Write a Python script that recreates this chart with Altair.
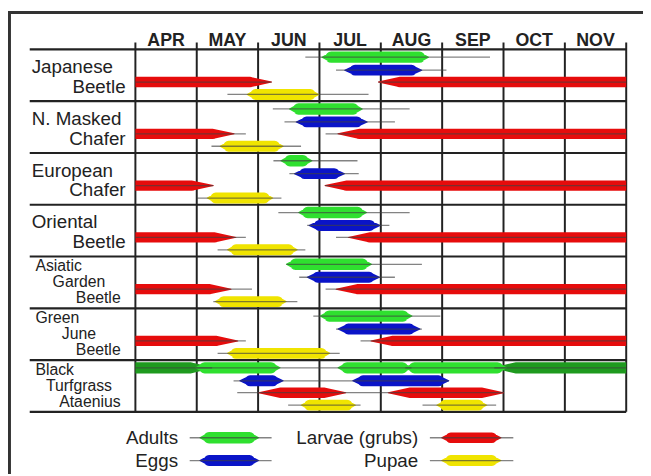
import altair as alt
import pandas as pd

# ---------------- data (months counted from 1 April; 8 = end of November) -------------
months = ["APR", "MAY", "JUN", "JUL", "AUG", "SEP", "OCT", "NOV"]
species = [
    ["Japanese", "Beetle"],
    ["N. Masked", "Chafer"],
    ["European", "Chafer"],
    ["Oriental", "Beetle"],
    ["Asiatic", "Garden", "Beetle"],
    ["Green", "June", "Beetle"],
    ["Black", "Turfgrass", "Ataenius"],
]

# (species index, whisker start, bar start, bar end, whisker end)
adults = [
    (0, 2.77, 3.04, 4.78, 5.78),
    (1, 2.24, 2.51, 3.70, 4.47),
    (2, 2.25, 2.37, 2.88, 3.62),
    (3, 2.33, 2.66, 3.77, 4.47),
    (4, 2.46, 2.46, 3.85, 4.67),
    (5, 2.90, 3.01, 4.51, 4.97),
    (6, 0.98, 0.98, 2.36, 3.30),
    (6, 3.30, 3.30, 4.50, 4.50),
    (6, 4.40, 4.40, 6.05, 6.05),
]
adults_overwintering = [
    (6, 0.00, 0.00, 1.25, 1.25),
    (6, 5.85, 5.85, 8.00, 8.00),
]
eggs = [
    (0, 3.27, 3.41, 4.67, 5.07),
    (1, 2.43, 2.62, 3.78, 4.23),
    (2, 2.51, 2.59, 3.41, 3.64),
    (3, 2.80, 2.83, 3.99, 4.14),
    (4, 2.67, 2.80, 3.98, 4.23),
    (5, 3.27, 3.30, 4.64, 4.67),
    (6, 1.60, 1.70, 2.41, 3.54),
    (6, 3.54, 3.54, 5.11, 5.11),
]
larvae = [
    (0, 0.00, 0.00, 2.22, 2.22), (0, 3.96, 3.96, 8.00, 8.00),
    (1, 0.00, 0.00, 1.61, 1.80), (1, 3.10, 3.30, 8.00, 8.00),
    (2, 0.00, 0.00, 1.27, 1.27), (2, 3.09, 3.09, 8.00, 8.00),
    (3, 0.00, 0.00, 1.64, 1.80), (3, 3.27, 3.47, 8.00, 8.00),
    (4, 0.00, 0.00, 1.56, 1.90), (4, 3.10, 3.27, 8.00, 8.00),
    (5, 0.00, 0.00, 1.67, 1.80), (5, 3.67, 3.84, 8.00, 8.00),
    (6, 1.66, 2.01, 3.43, 4.12), (6, 4.12, 4.12, 6.00, 6.00),
]
pupae = [
    (0, 1.50, 1.82, 2.99, 3.80),
    (1, 1.24, 1.38, 2.41, 2.70),
    (2, 1.00, 1.17, 2.24, 2.38),
    (3, 1.34, 1.50, 2.64, 2.77),
    (4, 1.27, 1.30, 2.46, 2.64),
    (5, 1.34, 1.50, 3.17, 3.33),
    (6, 2.49, 2.70, 3.59, 3.67),
    (6, 4.68, 4.91, 5.73, 5.88),
]
legend_labels = ["Adults", "Eggs", "Larvae (grubs)", "Pupae"]

# ---------------- styling / layout ----------------
COL = {"adults": "#2fe02f", "overwinter": "#1f9a1f", "eggs": "#0a14c8",
       "larvae": "#e60c0c", "pupae": "#f0e400"}
LANE = {"adults": 0.15, "overwinter": 0.15, "eggs": 0.40, "larvae": 0.63, "pupae": 0.87}
TAPER = {"adults": 0.15, "overwinter": 0.35, "eggs": 0.17, "larvae": 0.35, "pupae": 0.14}
THICK = {"adults": 11.5, "overwinter": 11.5, "eggs": 11, "larvae": 10.5, "pupae": 11}
ROW_PX = 52.43
MONTH_PX = 62.125
FONT = "Liberation Sans"
INK = "#222222"

bid = [0]


def add_bar(trail_rows, whisk_rows, x0, x1, w0, w1, yv, stage, taper=None):
    t = TAPER[stage] if taper is None else taper
    s = THICK[stage]
    t = min(t, (x1 - x0) / 2)
    pts = []
    if x0 <= 0:
        pts.append((x0 - 0.2, s))
    else:
        pts += [(x0, 0.0), (x0 + t, s)]
    if x1 >= 8:
        pts.append((x1 + 0.2, s))
    else:
        pts += [(x1 - t, s), (x1, 0.0)]
    for k, (xx, ss) in enumerate(pts):
        trail_rows.append({"bid": bid[0], "k": k, "x": xx, "y": yv, "s": ss, "c": COL[stage]})
    whisk_rows.append({"w0": min(w0, x0), "w1": max(w1, x1), "y": yv})
    bid[0] += 1


trail_rows, whisk_rows = [], []
for stage, rows in [("overwinter", adults_overwintering), ("adults", adults), ("eggs", eggs),
                    ("larvae", larvae), ("pupae", pupae)]:
    for (sp, w0, b0, b1, w1) in rows:
        add_bar(trail_rows, whisk_rows, b0, b1, w0, w1, sp + LANE[stage], stage)

# legend markers
leg_trail, leg_whisk, leg_text = [], [], []
leg_cols = [(0.885, 1.05, 2.01, 2.22), (4.80, 4.99, 5.96, 6.16)]
leg_rows_y = [7.50, 7.94]
leg_stage = [("adults", 0, 0), ("eggs", 0, 1), ("larvae", 1, 0), ("pupae", 1, 1)]
for (stage, ci, ri), lab in zip(leg_stage, legend_labels):
    w0, b0, b1, w1 = leg_cols[ci]
    add_bar(leg_trail, leg_whisk, b0, b1, w0, w1, leg_rows_y[ri], stage, taper=0.15)
    leg_text.append({"t": lab, "x": w0 - 0.19, "y": leg_rows_y[ri] + 6.5 / ROW_PX})

trail_df = pd.DataFrame(trail_rows)
whisk_df = pd.DataFrame(whisk_rows)
leg_trail_df = pd.DataFrame(leg_trail)
leg_whisk_df = pd.DataFrame(leg_whisk)
leg_df = pd.DataFrame(leg_text)

# species labels
lab_rows = []
for i, lines in enumerate(species):
    if len(lines) == 2:
        spec = [("left", -1.69, 24, 19), ("right", -0.16, 44, 19)]
    else:
        spec = [("left", -1.63, 15, 16), ("center", -0.92, 31, 16), ("right", -0.24, 47.5, 16)]
    for line, (al, xx, off, fs) in zip(lines, spec):
        lab_rows.append({"t": line, "al": al, "fs": fs, "x": xx, "y": i + off / ROW_PX})
lab_df = pd.DataFrame(lab_rows)

month_df = pd.DataFrame({"m": months, "x": [i + 0.5 for i in range(len(months))],
                         "y": [-3 / ROW_PX] * len(months)})
vgrid_df = pd.DataFrame({"x": list(range(len(months) + 1)),
                         "y": [-7 / ROW_PX] * (len(months) + 1),
                         "y2": [len(species)] * (len(months) + 1)})
hgrid_df = pd.DataFrame({"y": list(range(len(species) + 1)),
                         "x": [-107 / MONTH_PX] * (len(species) + 1),
                         "x2": [len(months)] * (len(species) + 1)})
frame_top = pd.DataFrame({"x": [-129 / MONTH_PX], "x2": [515 / MONTH_PX], "y": [-37.5 / ROW_PX]})
frame_left = pd.DataFrame({"x": [-127.5 / MONTH_PX], "y": [-39 / ROW_PX], "y2": [430 / ROW_PX]})

xs = alt.Scale(domain=[0, 8], nice=False, zero=False)
ys = alt.Scale(domain=[0, 7], nice=False, zero=False, reverse=True)


def X(f):
    return alt.X(f, type="quantitative", scale=xs, axis=None)


def Y(f):
    return alt.Y(f, type="quantitative", scale=ys, axis=None)


vgrid = alt.Chart(vgrid_df).mark_rule(color=INK, strokeWidth=2).encode(
    x=X("x"), y=Y("y"), y2="y2")
hgrid = alt.Chart(hgrid_df).mark_rule(color=INK, strokeWidth=2.2).encode(
    x=X("x"), x2="x2", y=Y("y"))
ftop = alt.Chart(frame_top).mark_rule(color="#333333", strokeWidth=3).encode(
    x=X("x"), x2="x2", y=Y("y"))
fleft = alt.Chart(frame_left).mark_rule(color="#333333", strokeWidth=3).encode(
    x=X("x"), y=Y("y"), y2="y2")


def trail_layer(df, clip):
    return alt.Chart(df).mark_trail(clip=clip).encode(
        x=X("x"), y=Y("y"),
        size=alt.Size("s:Q", scale=None, legend=None),
        color=alt.Color("c:N", scale=None, legend=None),
        detail="bid:N", order="k:Q")


def whisk_layer(df, clip):
    return alt.Chart(df).mark_rule(color="#404040", strokeWidth=1.3, opacity=0.65, clip=clip).encode(
        x=X("w0"), x2="w1", y=Y("y"))


bars = trail_layer(trail_df, True)
whisk = whisk_layer(whisk_df, True)
leg_bars = trail_layer(leg_trail_df, False)
leg_whisk = whisk_layer(leg_whisk_df, False)

month_txt = alt.Chart(month_df).mark_text(
    font=FONT, fontSize=18, fontWeight="bold", color=INK, align="center", baseline="alphabetic"
).encode(x=X("x"), y=Y("y"), text="m:N")

lab_layers = []
for al in ["left", "center", "right"]:
    lab_layers.append(
        alt.Chart(lab_df[lab_df["al"] == al]).mark_text(
            font=FONT, color=INK, align=al, baseline="alphabetic"
        ).encode(x=X("x"), y=Y("y"), text="t:N",
                 size=alt.Size("fs:Q", scale=None, legend=None)))

leg_txt = alt.Chart(leg_df).mark_text(
    font=FONT, fontSize=19, color=INK, align="right", baseline="alphabetic"
).encode(x=X("x"), y=Y("y"), text="t:N")

chart = alt.layer(
    ftop, fleft, hgrid, vgrid, bars, whisk, leg_bars, leg_whisk, month_txt, *lab_layers, leg_txt
).properties(
    width=497, height=367,
    padding={"left": 129, "top": 39, "right": 17, "bottom": 62},
    autosize=alt.AutoSizeParams(type="none"),
    background="white",
).configure_view(stroke=None)

chart.save("out.html", embed_options={"renderer": "svg", "actions": False})
